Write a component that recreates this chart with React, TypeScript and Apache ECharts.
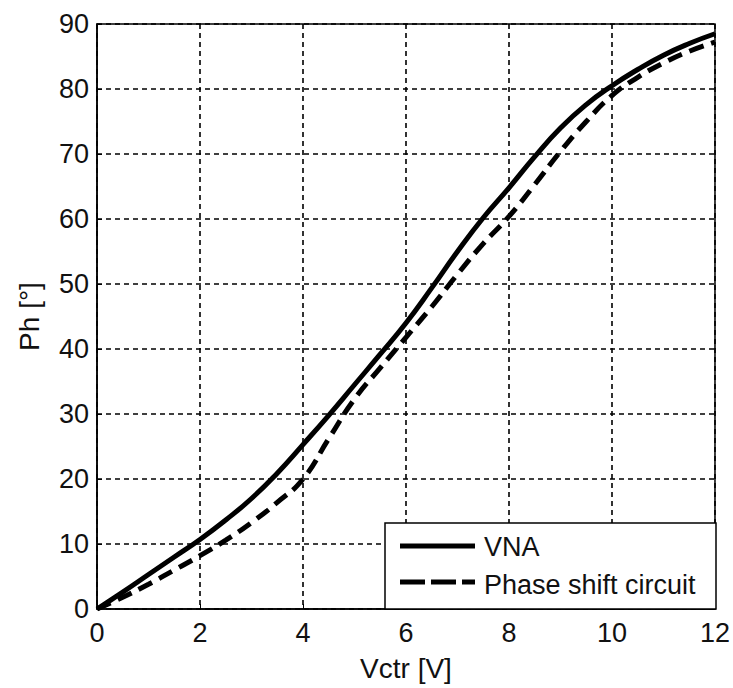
import React, { useEffect, useRef } from "react";
import * as echarts from "echarts";

// Control voltage (V)
const vctr = [0, 0.5, 1, 1.5, 2, 2.5, 3, 3.5, 4, 4.5, 5, 5.5, 6, 6.5, 7, 7.5, 8, 8.5, 9, 9.5, 10, 10.5, 11, 11.5, 12];
// Phase (deg) measured with the VNA
const phaseVNA = [0, 2.6, 5.3, 8.0, 10.7, 13.7, 17.0, 20.9, 25.3, 29.8, 34.5, 39.2, 44.0, 49.4, 55.0, 60.2, 64.8, 69.6, 74.0, 77.6, 80.5, 83.0, 85.2, 87.0, 88.5];
// Phase (deg) from the phase shift circuit
const phaseCircuit = [0, 1.8, 3.8, 6.0, 8.2, 10.6, 13.3, 16.4, 20.0, 26.2, 32.3, 37.1, 41.8, 46.5, 51.5, 56.2, 60.4, 65.3, 70.4, 75.0, 79.0, 81.8, 84.0, 85.8, 87.2];

const seriesNames = ["VNA", "Phase shift circuit"];
const xName = "Vctr [V]";
const yName = "Ph [°]";

const FONT = "'Liberation Sans', Arial, sans-serif";
const INK = "#111";

export default function App() {
  const ref = useRef<HTMLDivElement>(null);

  useEffect(() => {
    if (!ref.current) return;
    const chart = echarts.init(ref.current, null, { renderer: "svg" });
    const pairs = (ys: number[]) => vctr.map((x, i) => [x, ys[i]]);

    const gridLine = { show: true, lineStyle: { color: "#000", width: 1.6, type: [5, 4] as number[] } };
    const axisLine = { show: true, onZero: false, lineStyle: { color: "#000", width: 1.5 } };
    const axisTick = { show: true, inside: true, length: 5, lineStyle: { color: "#000", width: 1 } };
    const axisLabel = { color: INK, fontSize: 27, fontFamily: FONT };

    // Legend box in the lower-right corner of the plot
    const LX = 385;
    const LY = 523;
    const legendZ = 100;

    chart.setOption({
      animation: false,
      backgroundColor: "#fff",
      grid: {
        left: 97,
        right: 17,
        top: 24,
        bottom: 79,
        show: true,
        borderColor: "#000",
        borderWidth: 1.5,
        backgroundColor: "#fff",
      },
      xAxis: {
        type: "value",
        min: 0,
        max: 12,
        interval: 2,
        name: xName,
        nameLocation: "middle",
        nameGap: 45,
        nameTextStyle: { color: INK, fontSize: 28, fontFamily: FONT },
        axisLine,
        axisTick,
        axisLabel: { ...axisLabel, margin: 10 },
        splitLine: gridLine,
      },
      yAxis: {
        type: "value",
        min: 0,
        max: 90,
        interval: 10,
        name: yName,
        nameLocation: "middle",
        nameGap: 54,
        nameRotate: 90,
        nameTextStyle: { color: INK, fontSize: 28, fontFamily: FONT },
        axisLine,
        axisTick,
        axisLabel: { ...axisLabel, margin: 8 },
        splitLine: gridLine,
      },
      series: [
        {
          name: seriesNames[0],
          type: "line",
          data: pairs(phaseVNA),
          smooth: true,
          showSymbol: false,
          lineStyle: { color: "#000", width: 5 },
          z: 3,
        },
        {
          name: seriesNames[1],
          type: "line",
          data: pairs(phaseCircuit),
          smooth: true,
          showSymbol: false,
          lineStyle: { color: "#000", width: 5, type: [15, 8] },
          z: 2,
        },
      ],
      graphic: [
        {
          type: "rect",
          z: legendZ,
          shape: { x: LX, y: LY, width: 331, height: 86 },
          style: { fill: "#fff", stroke: "#000", lineWidth: 1.5 },
        },
        {
          type: "line",
          z: legendZ + 1,
          shape: { x1: LX + 15, y1: LY + 23, x2: LX + 90, y2: LY + 23 },
          style: { stroke: "#000", lineWidth: 5 },
        },
        {
          type: "text",
          z: legendZ + 1,
          x: LX + 99,
          y: LY + 24,
          style: { text: seriesNames[0], fill: INK, font: `27px ${FONT}`, verticalAlign: "middle" },
        },
        {
          type: "line",
          z: legendZ + 1,
          shape: { x1: LX + 15, y1: LY + 59, x2: LX + 90, y2: LY + 59 },
          style: { stroke: "#000", lineWidth: 5, lineDash: [25, 6] },
        },
        {
          type: "text",
          z: legendZ + 1,
          x: LX + 99,
          y: LY + 62,
          style: { text: seriesNames[1], fill: INK, font: `27px ${FONT}`, verticalAlign: "middle" },
        },
      ],
    });

    return () => chart.dispose();
  }, []);

  return (
    <div
      ref={ref}
      style={{ position: "fixed", left: 0, top: 0, width: 733, height: 688, background: "#fff" }}
    />
  );
}
